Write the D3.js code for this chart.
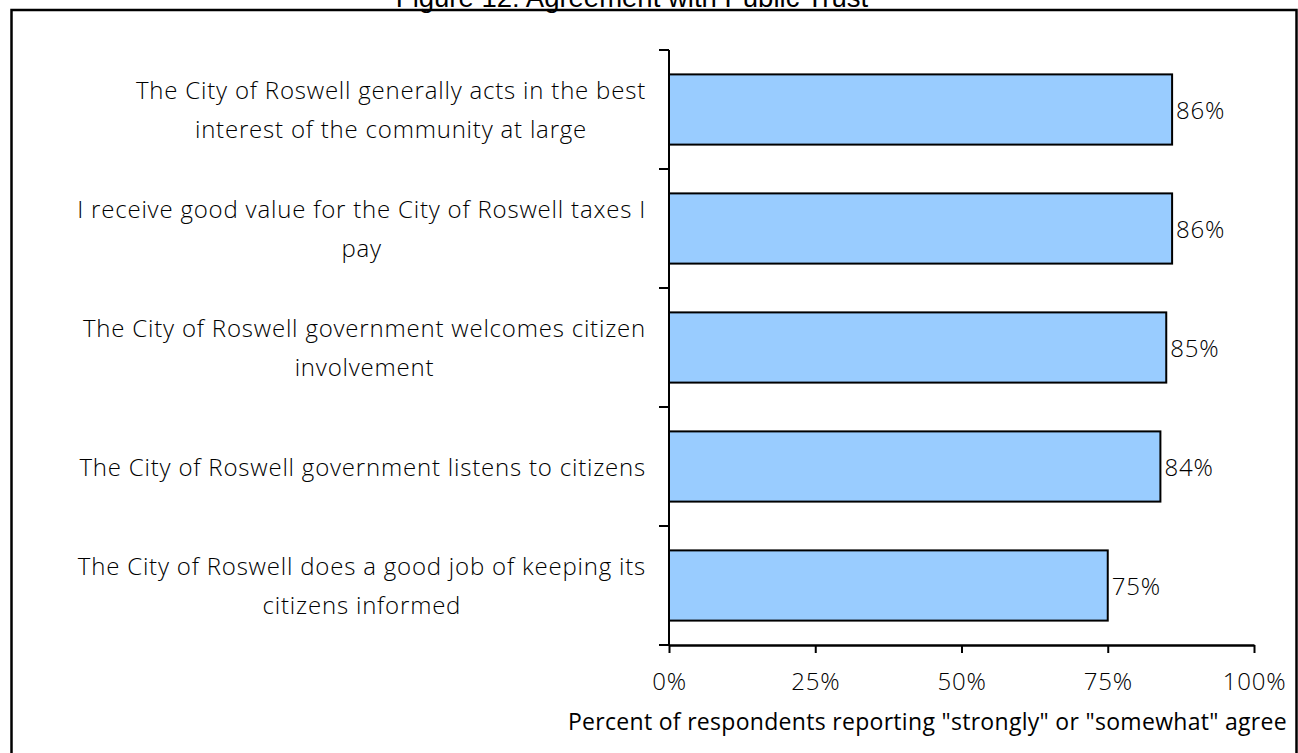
<!DOCTYPE html>
<html>
<head>
<meta charset="utf-8">
<script src="https://cdn.jsdelivr.net/npm/d3@7"></script>
<style>
  html, body { margin: 0; padding: 0; background: #fff; }
  svg { display: block; }
</style>
</head>
<body>
<svg id="chart" width="1298" height="753"></svg>
<script>
const categories = [
  ["The City of Roswell generally acts in the best", "interest of the community at large"],
  ["I receive good value for the City of Roswell taxes I", "pay"],
  ["The City of Roswell government welcomes citizen", "involvement"],
  ["The City of Roswell government listens to citizens"],
  ["The City of Roswell does a good job of keeping its", "citizens informed"]
];
const values = [0.86, 0.86, 0.85, 0.84, 0.75];
const xTicks = [0, 0.25, 0.5, 0.75, 1];
const xTickLabels = ["0%", "25%", "50%", "75%", "100%"];
const titleText = "Figure 12: Agreement with Public Trust";
const axisTitle = "Percent of respondents reporting \"strongly\" or \"somewhat\" agree";

const svg = d3.select("#chart");
const FONT = "'Open Sans', Lato, sans-serif";

// outer border
svg.append("rect")
  .attr("x", 11.5).attr("y", 10).attr("width", 1285).attr("height", 760)
  .attr("fill", "none").attr("stroke", "#000").attr("stroke-width", 2.5);

// title (partially cut at top, as in the source)
svg.append("text")
  .attr("x", 632).attr("y", 7)
  .attr("text-anchor", "middle")
  .attr("font-family", "'Liberation Sans', Arial, sans-serif")
  .attr("font-size", 27.5)
  .text(titleText);

const x = d3.scaleLinear().domain([0, 1]).range([669, 1254]);
const idx = categories.map((d, i) => i);
const y = d3.scaleBand().domain(idx).range([50, 645]).paddingInner(0.41).paddingOuter(0.205);

// bars
svg.append("g").selectAll("rect").data(values).join("rect")
  .attr("x", x(0))
  .attr("y", (d, i) => y(i))
  .attr("width", d => x(d) - x(0))
  .attr("height", y.bandwidth())
  .attr("fill", "#99CCFF")
  .attr("stroke", "#000")
  .attr("stroke-width", 2);

// value labels
svg.append("g").selectAll("text").data(values).join("text")
  .attr("x", d => x(d) + 4)
  .attr("y", (d, i) => y(i) + y.bandwidth() / 2 + 9)
  .attr("font-family", FONT)
  .attr("font-weight", 300)
  .attr("font-size", 24)
  .attr("letter-spacing", 0.8)
  .attr("fill", "#000")
  .text(d => Math.round(d * 100) + "%");

// y axis line and boundary ticks
const step = y.step();
const yAxisG = svg.append("g");
yAxisG.append("line")
  .attr("x1", x(0)).attr("x2", x(0)).attr("y1", 50).attr("y2", 645)
  .attr("stroke", "#000").attr("stroke-width", 2);
yAxisG.selectAll("line.tk").data(d3.range(categories.length + 1)).join("line")
  .attr("class", "tk")
  .attr("x1", x(0) - 10).attr("x2", x(0))
  .attr("y1", i => 50 + i * step).attr("y2", i => 50 + i * step)
  .attr("stroke", "#000").attr("stroke-width", 2);

// x axis
const xAxis = d3.axisBottom(x).tickValues(xTicks).tickFormat((d, i) => xTickLabels[i])
  .tickSize(8).tickSizeOuter(0).tickPadding(20);
const xg = svg.append("g").attr("transform", "translate(0,645)").call(xAxis);
xg.select(".domain").attr("stroke", "#000").attr("stroke-width", 2.5);
xg.selectAll(".tick line").attr("stroke", "#000").attr("stroke-width", 2);
xg.selectAll(".tick text").attr("font-family", FONT).attr("font-weight", 300)
  .attr("font-size", 24).attr("letter-spacing", 0.8).attr("fill", "#000");

// category labels: each block right aligned at 646, lines centred in block
const labelG = svg.append("g");
categories.forEach((lines, i) => {
  const g = labelG.append("g");
  const cy = y(i) + y.bandwidth() / 2;
  const lh = 39;
  const texts = lines.map((ln, j) => g.append("text")
    .attr("font-family", FONT).attr("font-weight", 300)
    .attr("font-size", 24).attr("letter-spacing", 0.8).attr("fill", "#000")
    .attr("text-anchor", "middle")
    .attr("y", cy + (j - (lines.length - 1) / 2) * lh + 9)
    .text(ln));
  const w = d3.max(texts, t => t.node().getComputedTextLength());
  texts.forEach(t => t.attr("x", 646 - w / 2));
});

// axis title
svg.append("text")
  .attr("x", 1287).attr("y", 730)
  .attr("text-anchor", "end")
  .attr("font-family", FONT)
  .attr("font-weight", 500)
  .attr("font-size", 23)
  .attr("letter-spacing", 0.3)
  .attr("fill", "#000")
  .text(axisTitle);
</script>
</body>
</html>
